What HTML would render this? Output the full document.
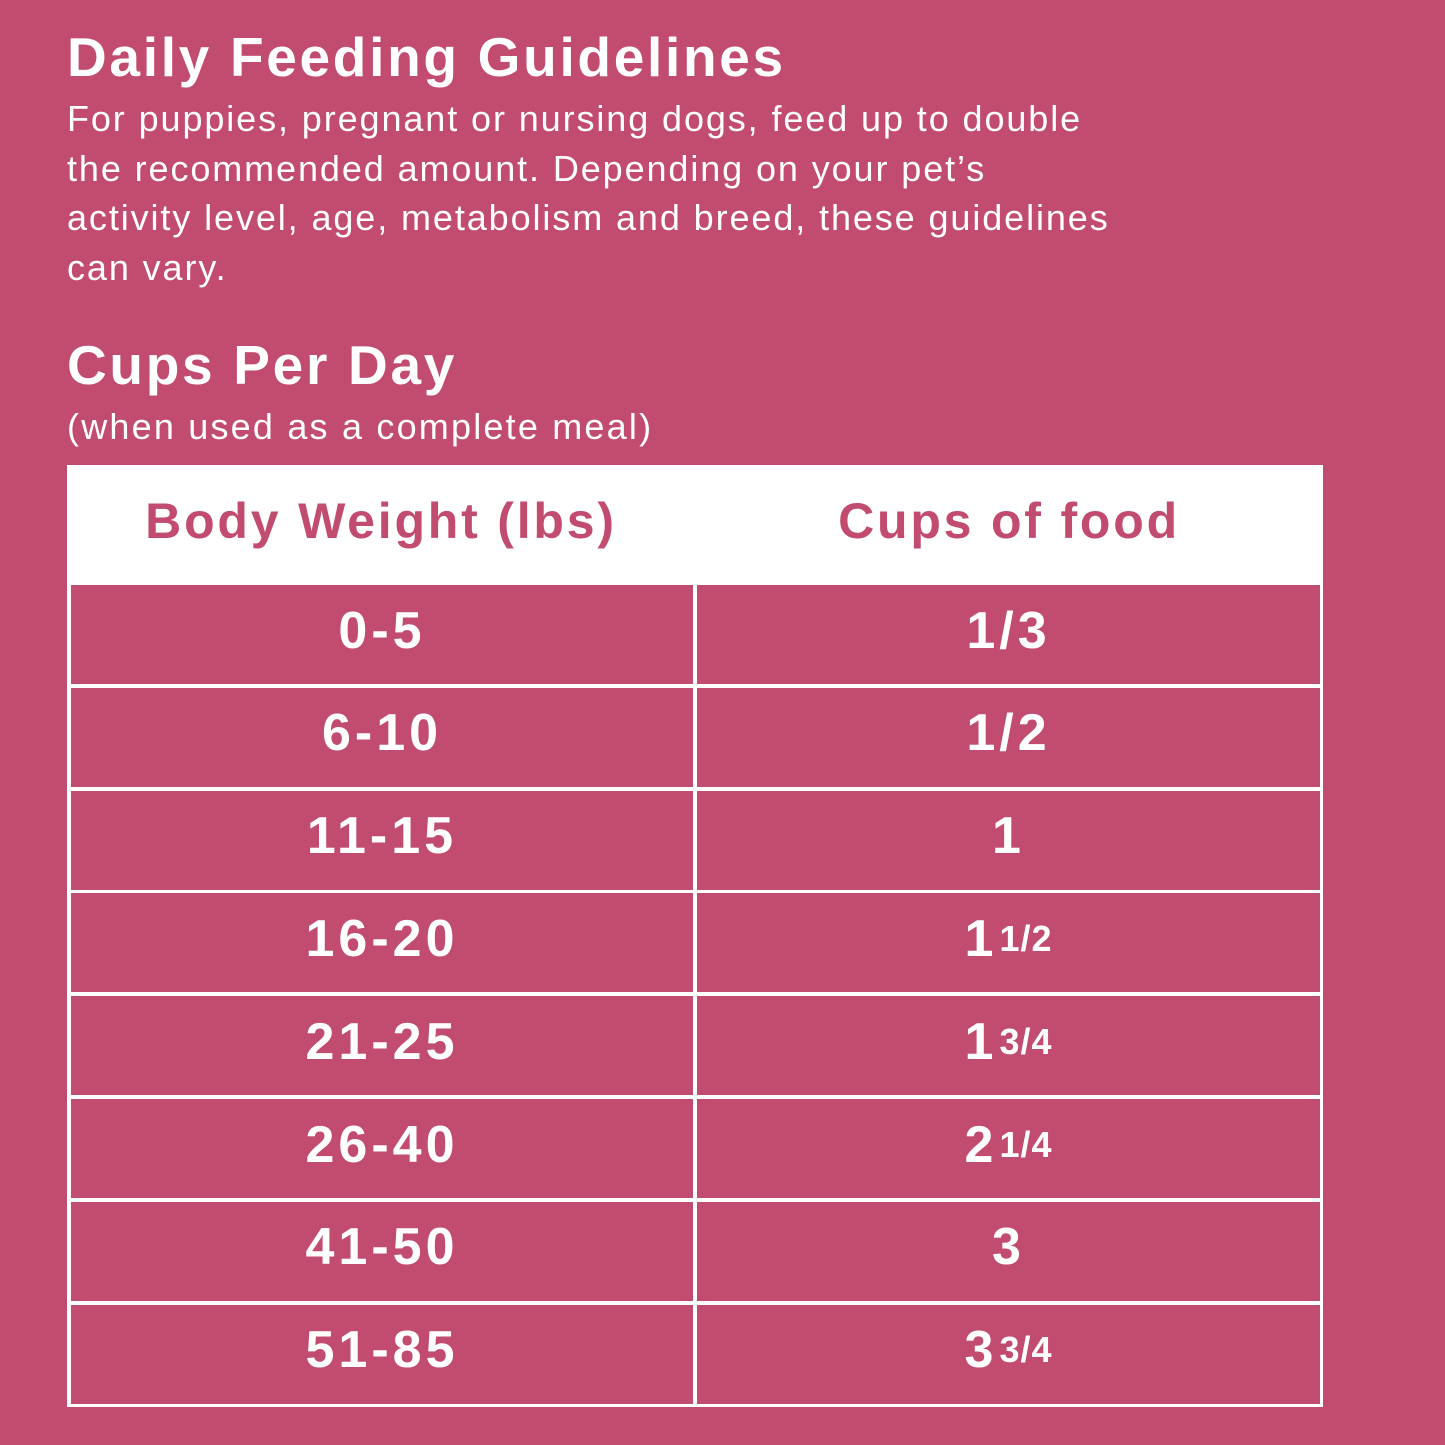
<!DOCTYPE html>
<html><head><style>
body{margin:0;width:1445px;height:1445px;background:#C24B70;position:relative;overflow:hidden;font-family:"Liberation Sans",sans-serif;color:#fff}
h1{position:absolute;margin:0;font-size:55px;font-weight:bold;left:67px;line-height:1;letter-spacing:2.7px}
.p{position:absolute;left:67px;font-size:36px;line-height:49.5px;letter-spacing:1.9px}
.tbl{position:absolute;left:67px;top:465px;width:1256px;height:942px;background:#fff}
.c{position:absolute;background:#C24B70;height:99px;display:flex;align-items:center;justify-content:center;font-size:52px;font-weight:bold;letter-spacing:4px;padding-bottom:8px;box-sizing:border-box}
.h{position:absolute;top:0;height:112px;display:flex;align-items:center;justify-content:center;color:#C24B70;font-size:50px;font-weight:bold;letter-spacing:2.8px}
sup{font-size:36px;vertical-align:baseline;margin-left:2px;letter-spacing:1px}
</style></head><body>
<h1 style="top:30px">Daily Feeding Guidelines</h1>
<div class="p" style="top:94px">For puppies, pregnant or nursing dogs, feed up to double<br>the recommended amount. Depending on your pet’s<br>activity level, age, metabolism and breed, these guidelines<br>can vary.</div>
<h1 style="top:338px">Cups Per Day</h1>
<div class="p" style="top:402px;letter-spacing:2.2px">(when used as a complete meal)</div>
<div class="tbl">
<div class="h" style="left:0;width:628px">Body Weight (lbs)</div>
<div class="h" style="left:628px;width:628px">Cups of food</div>
</div>
<script>
var L=["0-5","6-10","11-15","16-20","21-25","26-40","41-50","51-85"];
var R=["1/3","1/2","1","1<sup>1/2</sup>","1<sup>3/4</sup>","2<sup>1/4</sup>","3","3<sup>3/4</sup>"];
var h="";
for(var i=0;i<8;i++){var t=585+i*102.8;
h+='<div class="c" style="left:71px;width:622px;top:'+t+'px">'+L[i]+'</div>';
h+='<div class="c" style="left:697px;width:623px;top:'+t+'px">'+R[i]+'</div>';}
document.body.insertAdjacentHTML('beforeend',h);
</script>
</body></html>
